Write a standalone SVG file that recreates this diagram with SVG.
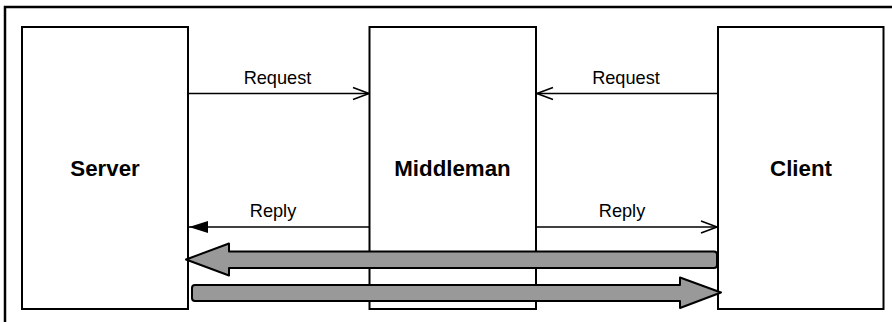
<svg xmlns="http://www.w3.org/2000/svg" width="892" height="322" viewBox="0 0 892 322">
<defs>
<style>
.box{fill:#fff;stroke:#000;stroke-width:2}
.lbl{font-family:"Liberation Sans",Arial,sans-serif;font-weight:bold;font-size:22.3px;text-anchor:middle;fill:#000}
.cl{font-family:"Liberation Sans",Arial,sans-serif;font-size:18.2px;text-anchor:middle;fill:#000}
.ln{stroke:#000;stroke-width:1.5;fill:none}
.big{fill:#999;stroke:#000;stroke-width:2;stroke-linejoin:round}
</style>
<marker id="open" markerWidth="20" markerHeight="16" viewBox="0 0 20 16" refX="19" refY="8" orient="auto" markerUnits="userSpaceOnUse">
<path d="M3,2 L19,8 L3,14" fill="none" stroke="#000" stroke-width="1.5"/>
</marker>
<marker id="filled" markerWidth="20" markerHeight="14" viewBox="0 0 20 14" refX="19" refY="7" orient="auto" markerUnits="userSpaceOnUse">
<path d="M0,1 L19,7 L0,13 Z" fill="#000"/>
</marker>
</defs>
<path d="M5,322 V7 H892" fill="none" stroke="#000" stroke-width="2.5"/>
<g id="server"><rect class="box" x="22" y="27" width="166" height="282"/><text class="lbl" x="105" y="176">Server</text></g>
<g id="middleman"><rect class="box" x="369.5" y="27" width="166.5" height="282"/><text class="lbl" x="452.5" y="176">Middleman</text></g>
<g id="client"><rect class="box" x="718" y="27" width="165.5" height="282"/><text class="lbl" x="801" y="176">Client</text></g>
<g id="connectors">
<line class="ln" x1="188" y1="93.5" x2="369" y2="93.5" marker-end="url(#open)"/>
<text class="cl" x="277.5" y="84">Request</text>
<line class="ln" x1="718" y1="93.5" x2="537" y2="93.5" marker-end="url(#open)"/>
<text class="cl" x="626" y="84">Request</text>
<line class="ln" x1="369.5" y1="227" x2="189" y2="227" marker-end="url(#filled)"/>
<text class="cl" x="273" y="217">Reply</text>
<line class="ln" x1="536" y1="227" x2="717" y2="227" marker-end="url(#open)"/>
<text class="cl" x="622" y="217">Reply</text>
<path class="big" d="M186,259.5 L229,243.5 L229,251.5 L714,251.5 Q717,251.5 717,254.5 L717,265 Q717,268 714,268 L229,268 L229,275.5 Z"/>
<path class="big" d="M195,285 L680,285 L680,277.5 L721,292.5 L680,308 L680,301 L195,301 Q192,301 192,298 L192,288 Q192,285 195,285 Z"/>
</g>
</svg>
